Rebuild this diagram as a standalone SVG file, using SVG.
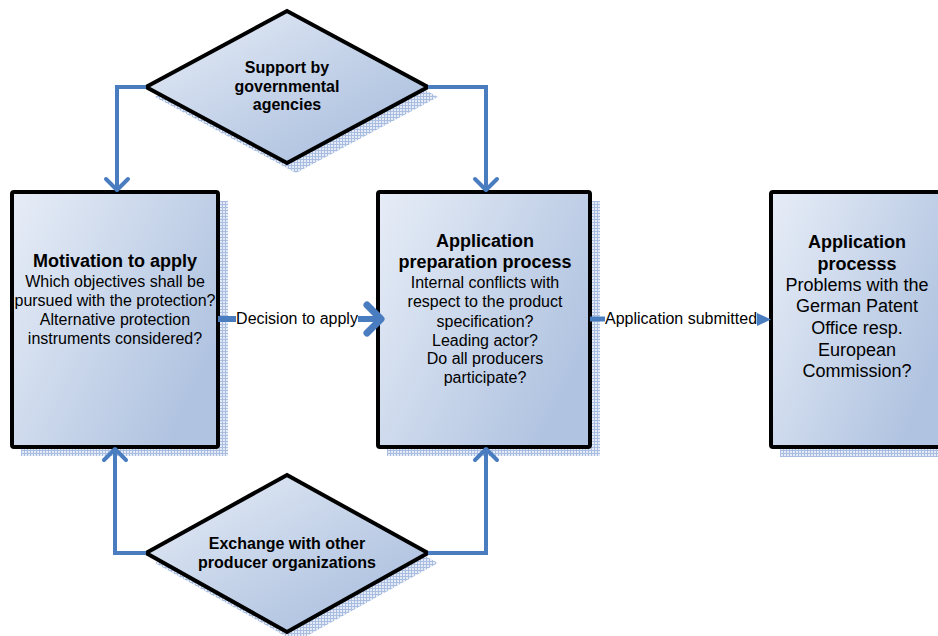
<svg xmlns="http://www.w3.org/2000/svg" width="938" height="636" viewBox="0 0 938 636">
<defs>
<linearGradient id="g" x1="0" y1="0" x2="1" y2="0.6">
<stop offset="0" stop-color="#e7edf7"/>
<stop offset="1" stop-color="#b0c3e0"/>
</linearGradient>
<linearGradient id="gd" x1="0" y1="0" x2="1" y2="1">
<stop offset="0" stop-color="#e7edf7"/>
<stop offset="0.8" stop-color="#b0c3e0"/>
</linearGradient>
<pattern id="hatch" width="3" height="3" patternUnits="userSpaceOnUse">
<rect width="3" height="3" fill="#e4ebf6"/>
<rect width="1" height="3" fill="#a9bde0"/>
<rect width="3" height="1" fill="#a9bde0"/>
</pattern>
</defs>
<style>
.box{fill:url(#g);stroke:#000;stroke-width:4;stroke-linejoin:round}
.dia{fill:url(#gd);stroke:#000;stroke-width:4;stroke-linejoin:miter}
.sh{fill:url(#hatch);stroke:none}
.t{font-family:"Liberation Sans",Arial,sans-serif;fill:#000;text-anchor:middle}
.b{font-weight:bold}
.c{fill:none;stroke:#4a7cc0;stroke-width:4;stroke-linejoin:miter}
.ch{fill:none;stroke:#4a7cc0;stroke-width:4;stroke-linecap:round;stroke-linejoin:round}
</style>

<g id="support">
<polygon class="sh" points="296,20 438,97 296,173 155,97"/>
<polygon class="dia" points="287,11 428,87 287,163 146,87"/>
<text class="t b" font-size="16" x="287" y="73">Support by</text>
<text class="t b" font-size="16" x="287" y="92">governmental</text>
<text class="t b" font-size="16" x="287" y="110">agencies</text>
</g>

<g id="exchange">
<polygon class="sh" points="296,485 438,563 296,642 155,563"/>
<polygon class="dia" points="287,475 428,553 287,632 146,553"/>
<text class="t b" font-size="16" x="287" y="549">Exchange with other</text>
<text class="t b" font-size="16" x="287" y="568">producer organizations</text>
</g>

<g id="motivation">
<rect class="sh" x="21" y="201" width="207" height="255"/>
<rect class="box" x="12" y="192" width="206" height="255" rx="2"/>
<text class="t b" font-size="18" x="115" y="267">Motivation to apply</text>
<text class="t" font-size="16" x="115" y="287">Which objectives shall be</text>
<text class="t" font-size="16" x="115" y="306">pursued with the protection?</text>
<text class="t" font-size="16" x="115" y="325">Alternative protection</text>
<text class="t" font-size="16" x="115" y="344">instruments considered?</text>
</g>

<g id="preparation">
<rect class="sh" x="387" y="201" width="213" height="255"/>
<rect class="box" x="378" y="192" width="212" height="255" rx="2"/>
<text class="t b" font-size="18" x="485" y="247">Application</text>
<text class="t b" font-size="18" x="485" y="268">preparation process</text>
<text class="t" font-size="16" x="485" y="288">Internal conflicts with</text>
<text class="t" font-size="16" x="485" y="307">respect to the product</text>
<text class="t" font-size="16" x="485" y="327">specification?</text>
<text class="t" font-size="16" x="485" y="346">Leading actor?</text>
<text class="t" font-size="16" x="485" y="364">Do all producers</text>
<text class="t" font-size="16" x="485" y="383">participate?</text>
</g>

<g id="process">
<rect class="sh" x="780" y="201" width="172" height="256"/>
<rect class="box" x="771" y="192" width="172" height="255" rx="2"/>
<text class="t b" font-size="18" x="857" y="248">Application</text>
<text class="t b" font-size="18" x="857" y="270">processs</text>
<text class="t" font-size="18" x="857" y="291">Problems with the</text>
<text class="t" font-size="18" x="857" y="312">German Patent</text>
<text class="t" font-size="18" x="857" y="334">Office resp.</text>
<text class="t" font-size="18" x="857" y="356">European</text>
<text class="t" font-size="18" x="857" y="377">Commission?</text>
</g>

<g id="connectors">
<polyline class="c" points="146,87 117,87 117,190"/>
<polyline class="ch" points="106,179 117,190 128,179"/>
<polyline class="c" points="428,87 486,87 486,190"/>
<polyline class="ch" points="475,179 486,190 497,179"/>
<polyline class="c" points="146,553 115,553 115,449"/>
<polyline class="ch" points="104,460 115,449 126,460"/>
<polyline class="c" points="428,553 486,553 486,449"/>
<polyline class="ch" points="475,460 486,449 497,460"/>
<line x1="218" y1="319" x2="236" y2="319" stroke="#4a7cc0" stroke-width="6"/>
<line x1="358" y1="319" x2="378" y2="319" stroke="#4a7cc0" stroke-width="6"/>
<polyline points="367,305 381,319 367,333" fill="none" stroke="#4a7cc0" stroke-width="7" stroke-linecap="round" stroke-linejoin="round"/>
<text class="t" x="297" y="324" font-size="16">Decision to apply</text>
<line x1="590" y1="319" x2="605" y2="319" stroke="#4a7cc0" stroke-width="5"/>
<polygon points="757,313 771,319.5 757,326" fill="#4a7cc0"/>
<text class="t" x="681" y="324" font-size="16">Application submitted</text>
</g>
</svg>
